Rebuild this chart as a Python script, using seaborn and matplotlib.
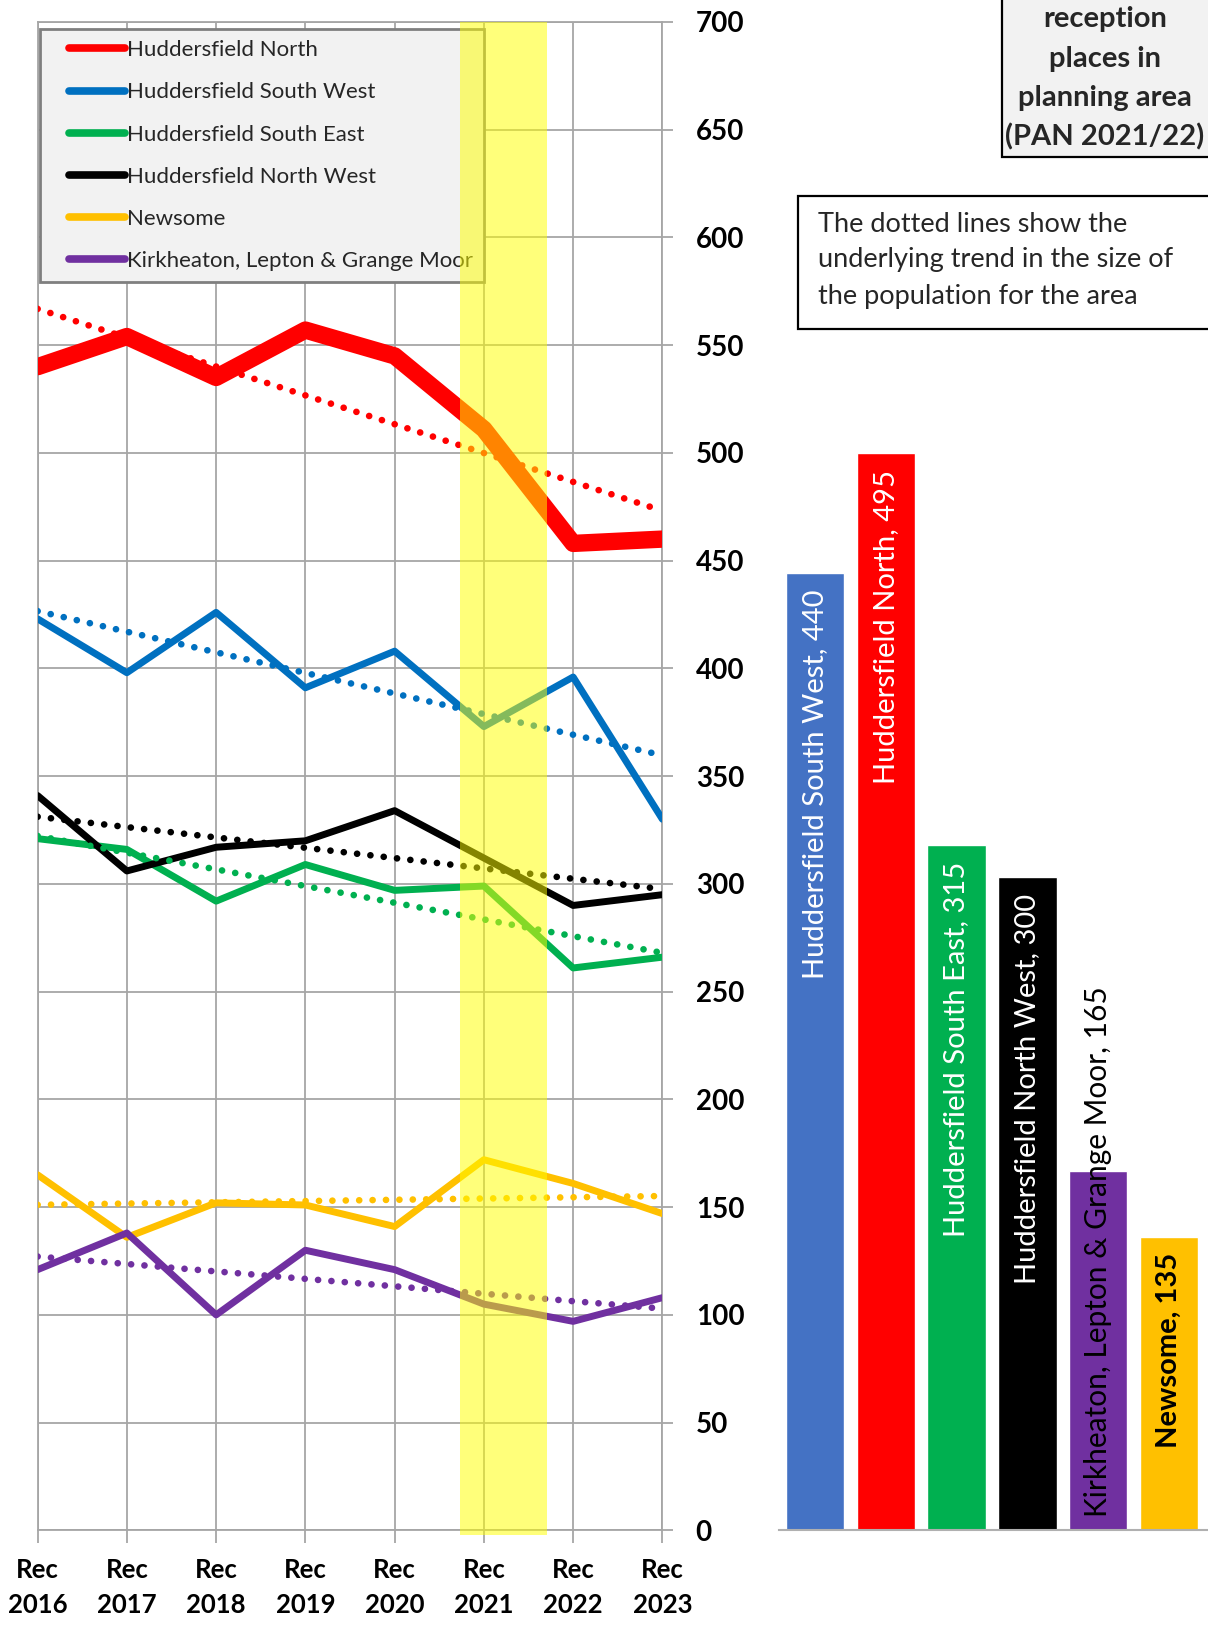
import matplotlib
matplotlib.use("Agg")
import matplotlib.pyplot as plt
import seaborn as sns
import numpy as np
from matplotlib.lines import Line2D
from matplotlib.patches import Rectangle
from matplotlib.legend_handler import HandlerLine2D

# ---------------- data ----------------
years = ["Rec\n2016", "Rec\n2017", "Rec\n2018", "Rec\n2019",
         "Rec\n2020", "Rec\n2021", "Rec\n2022", "Rec\n2023"]
hudd_north = [540, 554, 535, 557, 545, 511, 458, 460]
hudd_south_west = [423, 398, 426, 391, 408, 373, 396, 330]
hudd_south_east = [321, 316, 292, 309, 297, 299, 261, 266]
hudd_north_west = [341, 306, 317, 320, 334, 312, 290, 295]
newsome = [165, 136, 152, 151, 141, 172, 161, 147]
kirkheaton = [121, 138, 100, 130, 121, 105, 97, 108]

series_names = ["Huddersfield North", "Huddersfield South West",
                "Huddersfield South East", "Huddersfield North West",
                "Newsome", "Kirkheaton, Lepton & Grange Moor"]

pan_names = ["Huddersfield South West", "Huddersfield North",
             "Huddersfield South East", "Huddersfield North West",
             "Kirkheaton, Lepton & Grange Moor", "Newsome"]
pan_values = [440, 495, 315, 300, 165, 135]

title_lines = ["reception", "places in", "planning area", "(PAN 2021/22)"]
note_lines = ["The dotted lines show the",
              "underlying trend in the size of",
              "the population for the area"]

# ---------------- style ----------------
sns.set_theme(style="white")
plt.rcParams['font.family'] = ['Lato', 'DejaVu Sans']

line_colors = ["#ff0000", "#0070c0", "#00b050", "#000000", "#ffc000", "#7030a0"]
line_widths = [12.5, 5.0, 5.0, 5.0, 5.0, 5.0]
bar_colors = ["#4472c4", "#ff0000", "#00b050", "#000000", "#7030a0", "#ffc000"]
bar_text_colors = ["white", "white", "white", "white", "black", "black"]
grid_col = "#a6a6a6"

W, H = 1208, 1635
def fx(px): return px / W
def fy(py): return 1 - py / H


class InsetLineHandler(HandlerLine2D):
    """Legend line drawn only on the right part of the handle box."""
    def create_artists(self, legend, orig_handle, xdescent, ydescent,
                       width, height, fontsize, trans):
        arts = super().create_artists(legend, orig_handle, xdescent, ydescent,
                                      width, height, fontsize, trans)
        for a in arts:
            if isinstance(a, Line2D):
                xd = np.asarray(a.get_xdata(), dtype=float)
                yd = np.asarray(a.get_ydata(), dtype=float)
                if len(xd) >= 2:
                    x0, x1 = xd.min(), xd.max()
                    a.set_data([x0 + 0.25 * (x1 - x0), x1], [yd[0], yd[0]])
        return arts


fig = plt.figure(figsize=(W / 100, H / 100), dpi=100)
ax_top, ax_bot = 21.9, 1530.4
ax = fig.add_axes([fx(37.6), fy(ax_bot), fx(662.4) - fx(37.6), (ax_bot - ax_top) / H])

idx = np.arange(len(years))
all_series = [hudd_north, hudd_south_west, hudd_south_east, hudd_north_west, newsome, kirkheaton]

for vals, col, lw in zip(all_series, line_colors, line_widths):
    sns.lineplot(x=idx, y=vals, color=col, lw=lw, ax=ax, zorder=3)

for vals, col in zip(all_series, line_colors):
    sns.regplot(x=idx, y=vals, scatter=False, ci=None, ax=ax, color=col,
                line_kws=dict(lw=4.8, ls=(0, (0.01, 2.0)), dash_capstyle='round', zorder=4))

ax.set_xlim(0, 7)
ax.set_ylim(0, 700)
ax.set_xticks(idx)
ax.set_xticklabels(years, fontweight='bold', fontsize=18.5, linespacing=1.55)
ax.set_yticks(np.arange(0, 701, 50))
ax.set_yticklabels([str(v) for v in range(0, 701, 50)], fontweight='bold', fontsize=20)
ax.yaxis.tick_right()
ax.tick_params(axis='y', right=True, left=False, direction='out', length=8,
               width=1.3, color=grid_col, pad=16, labelcolor='black')
ax.tick_params(axis='x', bottom=True, direction='out', length=9,
               width=1.3, color=grid_col, pad=11, labelcolor='black')
ax.grid(True, color=grid_col, lw=1.3)
ax.set_axisbelow(True)
for s in ax.spines.values():
    s.set_color(grid_col)
    s.set_linewidth(1.3)
ax.set_xlabel("")
ax.set_ylabel("")

# highlight band (drawn over lines and legend)
ax.axvspan(4.73, 5.71, ymin=-0.003, ymax=1, color="#ffff00", alpha=0.52, lw=0,
           zorder=6, clip_on=False)

handles = [Line2D([0], [0], color=c, lw=5.5, solid_capstyle='round') for c in line_colors]
leg = ax.legend(handles, series_names, loc='upper left',
                bbox_to_anchor=(fx(39.6), fy(29)), bbox_transform=fig.transFigure,
                frameon=True, fancybox=False, facecolor='#f2f2f2', edgecolor='#7f7f7f',
                framealpha=1, fontsize=16, handlelength=3.35, handletextpad=0.08,
                labelspacing=1.0, borderpad=0.5, borderaxespad=0,
                handler_map={Line2D: InsetLineHandler()})
leg.get_frame().set_linewidth(2)
leg.set_zorder(5)

# ---------------- bar chart ----------------
bax = fig.add_axes([fx(779.2), fy(ax_bot), 1 - fx(779.2), (ax_bot - ax_top) / H])
sns.barplot(x=pan_names, y=pan_values, hue=pan_names, palette=bar_colors,
            saturation=1, width=0.82, ax=bax, legend=False, order=pan_names)
bax.set_xlim(-0.5, 5.545)
bax.set_ylim(0, 693)
bax.set_facecolor('none')
for k, s in bax.spines.items():
    s.set_visible(k == 'bottom')
bax.spines['bottom'].set_color('#b0b0b0')
bax.spines['bottom'].set_linewidth(1.5)
bax.set_xticks([])
bax.set_yticks([])
bax.set_xlabel("")
bax.set_ylabel("")

for i, (name, v, tc) in enumerate(zip(pan_names, pan_values, bar_text_colors)):
    label = f"{name}, {v}"
    weight = 'bold' if name == "Newsome" else 'normal'
    if name.startswith("Kirkheaton"):
        bax.annotate(label, xy=(i, 0), xytext=(0, 10), textcoords='offset points',
                     rotation=90, ha='center', va='bottom', color=tc, fontsize=21.5,
                     annotation_clip=False)
    else:
        bax.annotate(label, xy=(i, v), xytext=(0, -12), textcoords='offset points',
                     rotation=90, ha='center', va='top', color=tc, fontsize=21,
                     fontweight=weight)

# ---------------- text boxes ----------------
fig.add_artist(Rectangle((fx(1001.5), fy(157.5)), 0.3, 0.2, transform=fig.transFigure,
                         facecolor='#f2f2f2', edgecolor='black', lw=1.6, zorder=1))
for t, yc in zip(title_lines, [18.8, 59.5, 98.1, 136.7]):
    fig.text(fx(1105), fy(yc), t, ha='center', va='center', fontsize=21,
             fontweight='bold', zorder=2)

fig.add_artist(Rectangle((fx(798), fy(328.6)), 0.5, (328.6 - 196) / H,
                         transform=fig.transFigure, facecolor='white',
                         edgecolor='black', lw=1.6, zorder=1))
for t, yc in zip(note_lines, [224.3, 259.8, 296.3]):
    fig.text(fx(818), fy(yc), t, ha='left', va='center', fontsize=19.5, zorder=2)

fig.savefig("out.png", dpi=100)
